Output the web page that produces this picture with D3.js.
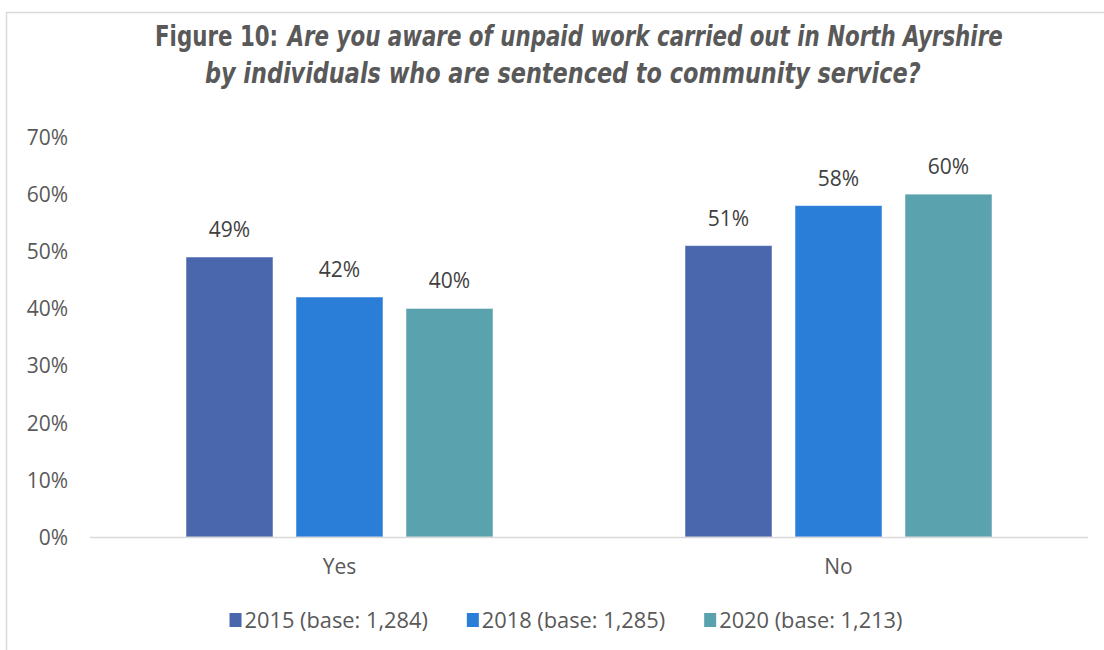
<!DOCTYPE html>
<html><head><meta charset="utf-8">
<script src="https://cdn.jsdelivr.net/npm/d3@7/dist/d3.min.js"></script>
<style>body{margin:0;background:#fff}svg{display:block}</style>
</head><body>
<svg id="c" width="1104" height="650"></svg>
<script>
const categories = ["Yes", "No"];
const seriesNames = ["2015 (base: 1,284)", "2018 (base: 1,285)", "2020 (base: 1,213)"];
const values2015 = [49, 51];
const values2018 = [42, 58];
const values2020 = [40, 60];
const yTicks = [0, 10, 20, 30, 40, 50, 60, 70];
const colors = ["#4A66AC", "#2B7ED8", "#5AA2AE"];
const titleBold = "Figure 10:";
const titleLine1 = "Are you aware of unpaid work carried out in North Ayrshire";
const titleLine2 = "by individuals who are sentenced to community service?";

const series = [values2015, values2018, values2020];
const svg = d3.select("#c");
const font = "'Open Sans', sans-serif";
const txt = "#595959";
const fs = 21;

// border
svg.append("path").attr("d", "M6.5,650 V12.5 H1104").attr("fill", "none").attr("stroke", "#d9d9d9").attr("stroke-width", 1.5);

// title (condensed horizontally with a scale transform)
const tf = "'DejaVu Sans Condensed', 'DejaVu Sans', sans-serif";
function ttext(g, s, italic) {
  return g.append("text").attr("font-family", tf).attr("font-weight", "bold")
    .attr("font-style", italic ? "italic" : "normal").attr("font-size", 28).attr("fill", txt).text(s);
}
const g1 = svg.append("g");
const ta = ttext(g1, titleBold, false), tb = ttext(g1, titleLine1, true);
const wa = ta.node().getComputedTextLength(), wb = tb.node().getComputedTextLength();
const gapT = 11;
ta.attr("x", 0).attr("y", 0);
tb.attr("x", wa + gapT).attr("y", 0);
const k1 = 848 / (wa + gapT + wb);
g1.attr("transform", `translate(155,46) scale(${k1},1)`);

const g2 = svg.append("g");
const tc = ttext(g2, titleLine2, true).attr("x", 0).attr("y", 0);
const k2 = 716 / tc.node().getComputedTextLength();
g2.attr("transform", `translate(205,83) scale(${k2},1)`);

const x0 = 90, x1 = 1088, yTop = 137, yBot = 537;
const y = d3.scaleLinear().domain([0, 70]).range([yBot, yTop]);
const xc = d3.scaleBand().domain(categories).range([x0, x1]).paddingInner(0).paddingOuter(0);
const groupW = 307;
const xs = d3.scaleBand().domain(d3.range(series.length)).range([0, groupW]).paddingInner(23/110).paddingOuter(0);

// y axis labels
const yAxis = d3.axisLeft(y).tickValues(yTicks).tickFormat(d => d + "%").tickSize(0).tickPadding(0);
const ga = svg.append("g").attr("transform", "translate(68,0)").call(yAxis);
ga.select(".domain").remove();
ga.selectAll("text").attr("font-family", font).attr("font-size", fs).attr("fill", txt).attr("dy", "0.35em");

// bars
categories.forEach((c, ci) => {
  const gx = xc(c) + xc.bandwidth() / 2 - groupW / 2;
  series.forEach((s, si) => {
    const v = s[ci];
    svg.append("rect")
      .attr("x", gx + xs(si)).attr("y", y(v))
      .attr("width", xs.bandwidth()).attr("height", yBot - y(v))
      .attr("fill", colors[si]).attr("stroke", "#ffffff").attr("stroke-opacity", 0.5).attr("stroke-width", 1);
    svg.append("text")
      .attr("x", gx + xs(si) + xs.bandwidth() / 2).attr("y", y(v) - 20)
      .attr("text-anchor", "middle").attr("font-family", font).attr("font-size", fs).attr("fill", "#404040")
      .text(v + "%");
  });
});

// baseline
svg.append("line").attr("x1", x0).attr("x2", x1).attr("y1", yBot + 0.5).attr("y2", yBot + 0.5)
  .attr("stroke", "#d9d9d9").attr("stroke-width", 1.5);

// x axis labels
const xAxis = d3.axisBottom(xc).tickSize(0).tickPadding(0);
const gx = svg.append("g").attr("transform", "translate(0,574)").call(xAxis);
gx.select(".domain").remove();
gx.selectAll("text").attr("font-family", font).attr("font-size", fs).attr("fill", txt).attr("dy", 0);

// legend
const lg = svg.append("g");
let cx = 0;
seriesNames.forEach((n, i) => {
  const g = lg.append("g");
  g.append("rect").attr("x", 0).attr("y", -15).attr("width", 12).attr("height", 14).attr("fill", colors[i]);
  const t = g.append("text").attr("x", 15).attr("y", 0).attr("font-family", font).attr("font-size", 21.8).attr("fill", txt).text(n);
  g.attr("transform", `translate(${cx},0)`);
  cx += 15 + t.node().getComputedTextLength() + 39;
});
const total = cx - 39;
lg.attr("transform", `translate(${566 - total / 2},628)`);
</script>
</body></html>
